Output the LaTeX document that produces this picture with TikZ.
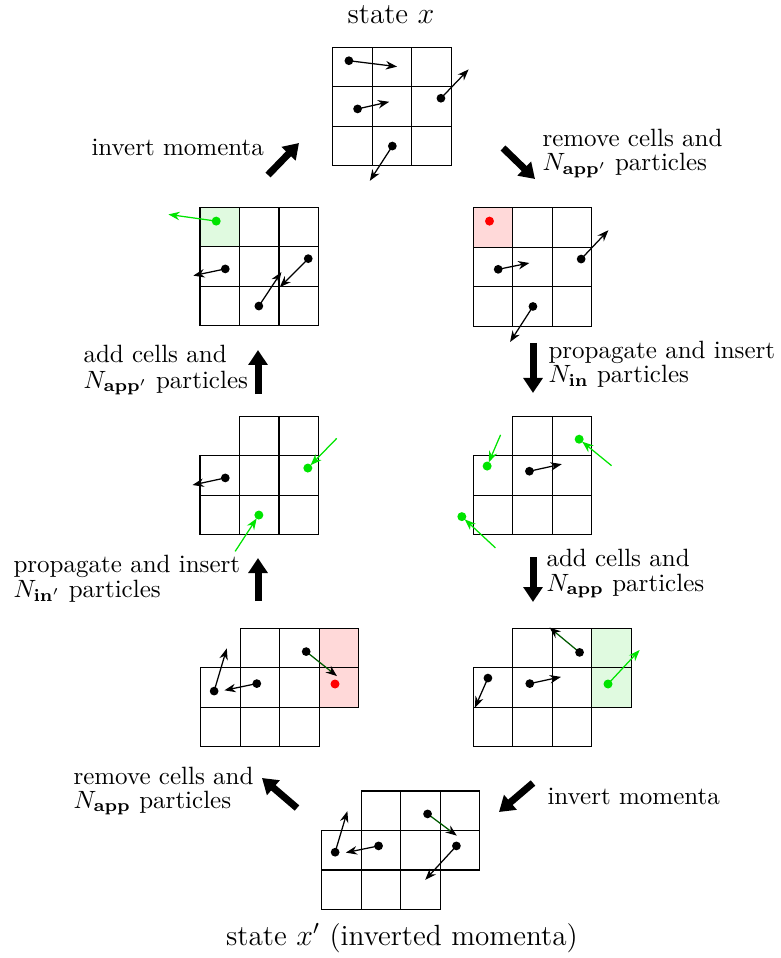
\documentclass[tikz,border=0pt]{standalone}
\usetikzlibrary{arrows.meta}
\definecolor{pgreen}{RGB}{0,228,0}
\definecolor{dgreen}{RGB}{0,90,0}
\definecolor{pinkfill}{RGB}{255,217,217}
\definecolor{greenfill}{RGB}{224,250,224}
\newcommand\partarrow[5][black]{\draw[parrow,draw=#1] (#2,#3) -- (#4,#5);\fill (#2,#3) circle[radius=1.75pt];}
\newcommand\partin[4]{\draw[inarrow] (#3,#4) -- (#1,#2);\fill[pgreen] (#1,#2) circle[radius=1.8pt];}
\begin{document}
\begin{tikzpicture}[x=0.4pt,y=-0.4pt,
  cellline/.style={draw=black,line width=0.5pt},
  parrow/.style={line width=0.5pt,-{Stealth[length=4.5pt,width=3.4pt,color=black]}},
  garrow/.style={line width=0.5pt,draw=pgreen,-{Stealth[length=4.5pt,width=3.4pt]}},
  inarrow/.style={line width=0.5pt,draw=pgreen,-{Stealth[length=4.5pt,width=3.4pt]},shorten >=1.6pt},
  bigarrow/.style={line width=2.8pt,-{Triangle[length=6pt,width=7.5pt]}},
  lbl/.style={anchor=base west,inner sep=0pt,font=\fontsize{10}{10}\selectfont},
  statelbl/.style={anchor=base,inner sep=0pt,font=\fontsize{11.7}{14}\selectfont},
  gridscope/.style={x=15.8pt,y=-15.8pt}]
\useasboundingbox (0,0) rectangle (780,958);

% ---- grid 1 (state x)
\begin{scope}[shift={(332.7,47.3)},gridscope]
\foreach \c/\r in {0/0,1/0,2/0,0/1,1/1,2/1,0/2,1/2,2/2} \draw[cellline] (\c,\r) rectangle +(1,1);
\partarrow{0.41}{0.34}{1.63}{0.49}
\partarrow{0.63}{1.56}{1.43}{1.38}
\partarrow{2.74}{1.29}{3.44}{0.56}
\partarrow{1.51}{2.50}{0.94}{3.38}
\end{scope}

% ---- grid 2 (right 1)
\begin{scope}[shift={(473.3,207.7)},gridscope]
\fill[pinkfill] (0,0) rectangle (1,1);
\foreach \c/\r in {0/0,1/0,2/0,0/1,1/1,2/1,0/2,1/2,2/2} \draw[cellline] (\c,\r) rectangle +(1,1);
\fill[red] (0.41,0.34) circle[radius=1.8pt];
\partarrow{0.63}{1.56}{1.42}{1.40}
\partarrow{2.73}{1.30}{3.42}{0.57}
\partarrow{1.51}{2.50}{0.93}{3.40}
\end{scope}

% ---- grid 3 (left 1)
\begin{scope}[shift={(200,207.3)},gridscope]
\fill[greenfill] (0,0) rectangle (1,1);
\foreach \c/\r in {0/0,1/0,2/0,0/1,1/1,2/1,0/2,1/2,2/2} \draw[cellline] (\c,\r) rectangle +(1,1);
\draw[garrow] (0.41,0.35) -- (-0.80,0.18);
\fill[pgreen] (0.41,0.35) circle[radius=1.8pt];
\partarrow{0.64}{1.56}{-0.17}{1.73}
\partarrow{2.74}{1.30}{2.02}{2.02}
\partarrow{1.49}{2.50}{2.06}{1.64}
\end{scope}

% ---- grid 4 (left 2)
\begin{scope}[shift={(200,416.3)},gridscope]
\foreach \c/\r in {1/0,2/0,0/1,1/1,2/1,0/2,1/2,2/2} \draw[cellline] (\c,\r) rectangle +(1,1);
\partarrow{0.64}{1.56}{-0.19}{1.74}
\partin{2.73}{1.31}{3.46}{0.56}
\partin{1.49}{2.50}{0.89}{3.42}
\end{scope}

% ---- grid 5 (right 2)
\begin{scope}[shift={(473.3,416.3)},gridscope]
\foreach \c/\r in {1/0,2/0,0/1,1/1,2/1,0/2,1/2,2/2} \draw[cellline] (\c,\r) rectangle +(1,1);
\partin{0.35}{1.26}{0.69}{0.47}
\partarrow{1.42}{1.39}{2.24}{1.21}
\partin{2.68}{0.58}{3.50}{1.25}
\partin{-0.29}{2.54}{0.56}{3.33}
\end{scope}

% ---- grid 6 (left 3)
\begin{scope}[shift={(200.7,628.3)},gridscope]
\fill[pinkfill] (3,0) rectangle (4,2);
\foreach \c/\r in {1/0,2/0,3/0,0/1,1/1,2/1,3/1,0/2,1/2,2/2} \draw[cellline] (\c,\r) rectangle +(1,1);
\partarrow{0.34}{1.59}{0.66}{0.51}
\partarrow{1.42}{1.40}{0.60}{1.57}
\partarrow[dgreen]{2.67}{0.59}{3.45}{1.21}
\fill[red] (3.40,1.41) circle[radius=1.8pt];
\end{scope}

% ---- grid 7 (right 3)
\begin{scope}[shift={(473.3,628.3)},gridscope]
\fill[greenfill] (3,0) rectangle (4,2);
\foreach \c/\r in {1/0,2/0,3/0,0/1,1/1,2/1,3/1,0/2,1/2,2/2} \draw[cellline] (\c,\r) rectangle +(1,1);
\partarrow{0.37}{1.26}{0.04}{2.01}
\partarrow{1.43}{1.40}{2.22}{1.23}
\partarrow[dgreen]{2.69}{0.61}{1.93}{-0.02}
\draw[garrow] (3.41,1.41) -- (4.21,0.55);
\fill[pgreen] (3.41,1.41) circle[radius=1.8pt];
\end{scope}

% ---- grid 8 (state x')
\begin{scope}[shift={(321.7,791)},gridscope]
\foreach \c/\r in {1/0,2/0,3/0,0/1,1/1,2/1,3/1,0/2,1/2,2/2} \draw[cellline] (\c,\r) rectangle +(1,1);
\partarrow{0.34}{1.55}{0.65}{0.51}
\partarrow{1.44}{1.39}{0.61}{1.56}
\partarrow[dgreen]{2.68}{0.58}{3.42}{1.13}
\partarrow{3.41}{1.39}{2.62}{2.25}
\end{scope}

% ---- big arrows
\draw[bigarrow] (268,175) -- (299,143);
\draw[bigarrow] (503,148) -- (535,179);
\draw[bigarrow] (258,394) -- (258,350);
\draw[bigarrow] (533,343) -- (533,393);
\draw[bigarrow] (258,601) -- (258,558);
\draw[bigarrow] (533,557) -- (533,602);
\draw[bigarrow] (297,808) -- (262,778);
\draw[bigarrow] (533,783) -- (499,812);

% ---- labels
\node[statelbl] (sx) at (391,24) {state $x$};
\node[statelbl] (sxp) at (402,945) {state $x'$ (inverted momenta)};
\node[lbl] (inv1) at (91,156) {invert momenta};
\node[lbl] (rem1a) at (542,147) {remove cells and};
\node[lbl] (rem1b) at (542,171) {$N_{\mathbf{app}'}$ particles};
\node[lbl] (add1a) at (83,363) {add cells and};
\node[lbl] (add1b) at (83,388) {$N_{\mathbf{app}'}$ particles};
\node[lbl] (pro1a) at (548,358) {propagate and insert};
\node[lbl] (pro1b) at (548,383) {$N_{\mathbf{in}}$ particles};
\node[lbl] (pro2a) at (13,572) {propagate and insert};
\node[lbl] (pro2b) at (13,597) {$N_{\mathbf{in}'}$ particles};
\node[lbl] (add2a) at (546,566) {add cells and};
\node[lbl] (add2b) at (546,591) {$N_{\mathbf{app}}$ particles};
\node[lbl] (rem2a) at (73,784) {remove cells and};
\node[lbl] (rem2b) at (73,808) {$N_{\mathbf{app}}$ particles};
\node[lbl] (inv2) at (547,804) {invert momenta};
\end{tikzpicture}
\end{document}
